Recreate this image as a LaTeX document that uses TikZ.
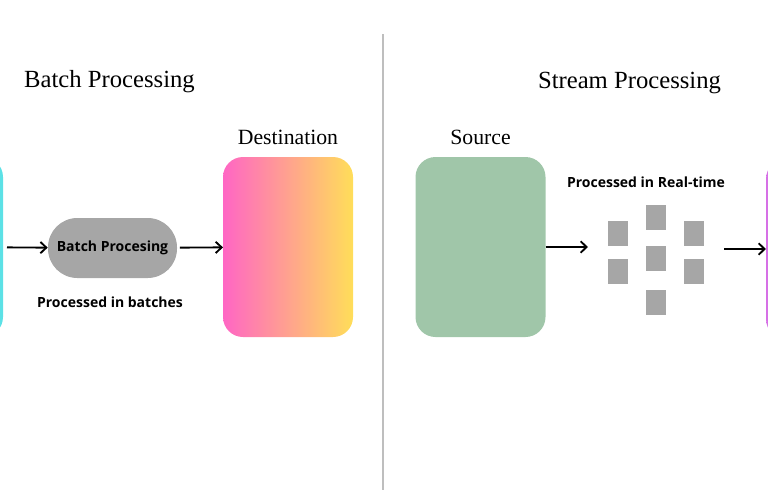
\documentclass[tikz,border=0pt]{standalone}
\usepackage{fontspec}
\setmainfont{Liberation Serif}
\newfontfamily\lblfont{Open Sans}
\usetikzlibrary{positioning,arrows.meta}

\definecolor{boxcyan}{RGB}{92,225,230}
\definecolor{boxpink}{RGB}{255,102,196}
\definecolor{boxyellow}{RGB}{255,222,89}
\definecolor{boxgreen}{RGB}{160,198,169}
\definecolor{boxviolet}{RGB}{214,112,230}
\definecolor{blockgray}{RGB}{166,166,166}
\definecolor{rulegray}{RGB}{190,190,190}

\tikzset{
  panel/.style={rounded corners=15pt, minimum width=97.5pt, minimum height=135pt, inner sep=0pt, outer sep=0pt},
  pill/.style={fill=blockgray, rounded corners=22pt, minimum width=96.75pt, minimum height=45pt, inner sep=0pt, font=\lblfont\bfseries\fontsize{10.5}{12}\selectfont},
  block/.style={fill=blockgray, minimum width=15pt, minimum height=18.75pt, inner sep=0pt},
  title/.style={font=\fontsize{18.5}{22}\selectfont},
  subtitle/.style={font=\fontsize{16.3}{20}\selectfont},
  note/.style={font=\lblfont\bfseries\fontsize{10.5}{12}\selectfont},
  arr/.style={line width=1.4pt, -{Straight Barb[length=4.5pt,width=8.5pt]}}
}

\begin{document}
\begin{tikzpicture}[x=0.75pt,y=0.75pt,yscale=-1,xscale=1]
\useasboundingbox (0,0) rectangle (768,490);
\clip (0,0) rectangle (768,490);

%Straight Lines: divider
\draw [color=rulegray, line width=1.5pt] (383,34) -- (383,490) ;

%Shape: panels
\node [panel, fill=boxcyan] (srcL) at (-62,247) {};
\node [panel, left color=boxpink, right color=boxyellow] (dest) at (288,247) {};
\node [panel, fill=boxgreen] (src) at (480.5,247) {};
\node [panel, left color=boxviolet, right color=boxpink!60] (dstR) at (831,249) {};

%Shape: batch step
\node [pill] (batch) at (112.5,248) {Batch Procesing};

%Shape: stream blocks
\node [block] (q1) at (618,233.5) {};
\node [block] (q2) at (618,271.5) {};
\node [block] (q3) at (656,217) {};
\node [block] (q4) at (656,258.5) {};
\node [block] (q5) at (656,302) {};
\node [block] (q6) at (693.5,233.5) {};
\node [block] (q7) at (693.5,271.5) {};

%Straight Lines: arrows
\coordinate (inS) at (588,247);
\coordinate (outS) at (724,249);
\draw [arr, shorten <=3pt] (srcL) -- (batch) ;
\draw [arr, shorten <=2pt] (batch) -- (dest) ;
\draw [arr] (src) -- (inS) ;
\draw [arr] (outS) -- (dstR) ;

% Text Node
\node [title] (tbatch) at (109.5,82) {Batch Processing};
% Text Node
\node [title] (tstream) at (629.5,83) {Stream Processing};
% Text Node
\node [subtitle] (tdest) at (288,137) {Destination};
% Text Node
\node [subtitle] (tsrc) at (480.5,137) {Source};
% Text Node
\node [note] (nbatch) at (110,302) {Processed in batches};
% Text Node
\node [note] (nstream) at (646,182) {Processed in Real-time};

\end{tikzpicture}
\end{document}
